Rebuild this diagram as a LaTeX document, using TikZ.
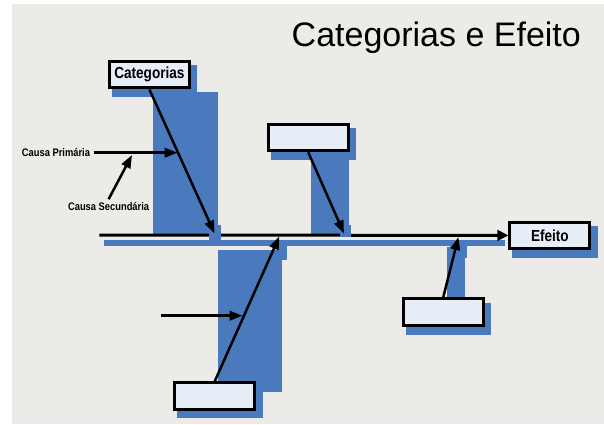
\documentclass[tikz,border=0pt]{standalone}
\usepackage{fontspec}
\setmainfont{Liberation Sans}
\newfontfamily\labelfont[FakeStretch=0.85]{Liberation Sans}
\usepackage{xcolor}
\usepackage{tikz}
\usetikzlibrary{arrows.meta}

\begin{document}
\begin{tikzpicture}[x=1pt,y=-1pt,
    causebox/.style={draw=black, line width=3pt, fill=boxcolor, minimum width=80pt,
        minimum height=26.5pt, inner sep=0pt, font=\labelfont\bfseries\fontsize{16}{19}\selectfont},
    bonearrow/.style={line width=2.5pt, -{Triangle[length=13pt,width=9.5pt]}},
    spineline/.style={line width=3pt, -{Triangle[length=11pt,width=10.5pt]}},
    smalllabel/.style={font=\labelfont\bfseries\fontsize{11}{13}\selectfont, inner sep=3.5pt}]

% Define colors
\definecolor{bgcolor}{RGB}{236,235,232}
\definecolor{bonecolor}{RGB}{74,121,189}
\definecolor{boxcolor}{RGB}{232,238,248}

\useasboundingbox (0,0) rectangle (604,424);
\fill[bgcolor] (12,4) rectangle (604,424);

% Helper for a box with its shadow
\newcommand{\bonebox}[4]{%
    % #1 = name, #2 = x, #3 = y, #4 = text
    \fill[bonecolor] (#2-37.5, #3-9.7) rectangle (#2+48, #3+22.4);
    \node[causebox] (#1) at (#2, #3) {#4};
}

% Blue bones
\fill[bonecolor] (153, 92.3) rectangle (217.6, 233.5);
\fill[bonecolor] (311, 160) rectangle (348.6, 233.5);
\fill[bonecolor] (217.6, 250) rectangle (282.4, 392);
\fill[bonecolor] (446.8, 246.7) rectangle (465, 297.7);
\fill[bonecolor] (104, 240) rectangle (505, 245.5);

% Boxes
\bonebox{cat}{149.4}{74.7}{Categorias}
\bonebox{upper}{308.2}{137.5}{}
\bonebox{lower}{214.8}{395.9}{}
\bonebox{right}{443.2}{312.2}{}
\bonebox{eff}{549.9}{235.4}{Efeito}

% Title
\node[anchor=base west, inner sep=0pt, font=\fontsize{34}{40}\selectfont] (title) at (291.5, 46) {Categorias e Efeito};

% Spine
\coordinate (sp) at (99.4, 235);
\draw[spineline] (sp) -- (eff.west);

% Bits of shadow over the spine
\fill[bonecolor] (209, 225) rectangle (220.7, 240);
\fill[bonecolor] (340, 225) rectangle (350.7, 237);
\fill[bonecolor] (277, 240) rectangle (286.5, 260);
\fill[bonecolor] (450, 243) rectangle (467, 258);

% Labels
\node[smalllabel] (prim) at (56, 152.7) {Causa Primária};
\node[smalllabel] (sec) at (108.6, 207) {Causa Secundária};

% Arrows
\coordinate (t1) at (214.6, 233.5);
\coordinate (t2) at (344, 233.5);
\coordinate (t3) at (279.3, 236.5);
\coordinate (t4) at (458.4, 237);
\coordinate (pm) at (177.5, 152.7);
\coordinate (sm) at (132, 155);
\coordinate (hs) at (161, 315.7);
\coordinate (hm) at (242.5, 315.7);
\draw[bonearrow] (cat.south) -- (t1);
\draw[bonearrow] (upper.south) -- (t2);
\draw[bonearrow] (lower.north) -- (t3);
\draw[bonearrow] (right.north) -- (t4);
\draw[bonearrow] (prim.east) -- (pm);
\draw[bonearrow] (sec.north) -- (sm);
\draw[bonearrow] (hs) -- (hm);

\end{tikzpicture}
\end{document}
